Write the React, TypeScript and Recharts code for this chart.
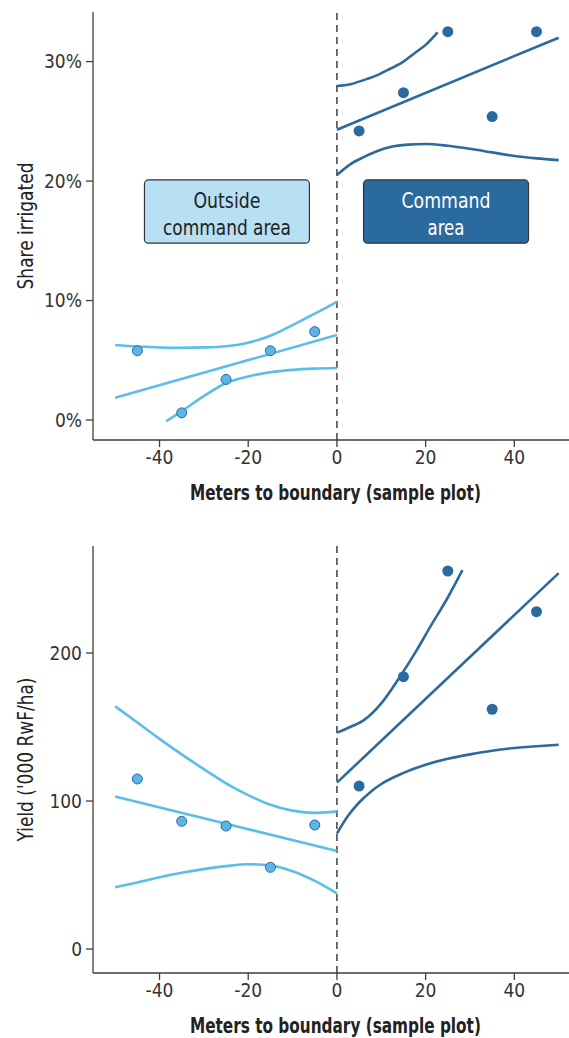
import {
  ComposedChart,
  Line,
  Scatter,
  XAxis,
  YAxis,
  ReferenceLine,
  ReferenceArea,
} from "recharts";

const LIGHT = "#5bbde9";
const DARK = "#2b6a9f";
const AXIS = "#3d3d3d";
const FONT = "'Liberation Sans Narrow', 'Arial Narrow', 'DejaVu Sans Condensed', sans-serif";

const X_TICKS = [-40, -20, 0, 20, 40];
const X_DOMAIN = [-55, 55];
const X_TITLE = "Meters to boundary (sample plot)";

// share irrigated (%)
const irrTicks = [0, 10, 20, 30];
const irrOutsidePts = [
  { x: -45, y: 5.8 },
  { x: -35, y: 0.6 },
  { x: -25, y: 3.4 },
  { x: -15, y: 5.8 },
  { x: -5, y: 7.4 },
];
const irrCommandPts = [
  { x: 5, y: 24.2 },
  { x: 15, y: 27.4 },
  { x: 25, y: 32.5 },
  { x: 35, y: 25.4 },
  { x: 45, y: 32.5 },
];
const irrOutsideFit = [
  { x: -50, y: 1.87 },
  { x: 0, y: 7.11 },
];
const irrOutsideUpper = [
  { x: -50, y: 6.28 },
  { x: -45, y: 6.15 },
  { x: -40, y: 6.07 },
  { x: -35, y: 6.05 },
  { x: -30, y: 6.08 },
  { x: -25, y: 6.18 },
  { x: -20, y: 6.47 },
  { x: -15, y: 7.05 },
  { x: -10, y: 7.95 },
  { x: -5, y: 8.9 },
  { x: 0, y: 9.9 },
];
const irrOutsideLower = [
  { x: -38.5, y: -0.1 },
  { x: -35, y: 0.75 },
  { x: -30, y: 2.0 },
  { x: -25, y: 3.1 },
  { x: -20, y: 3.65 },
  { x: -15, y: 4.0 },
  { x: -10, y: 4.2 },
  { x: -5, y: 4.3 },
  { x: 0, y: 4.35 },
];
const irrCommandFit = [
  { x: 0, y: 24.3 },
  { x: 50, y: 32.0 },
];
const irrCommandUpper = [
  { x: 0, y: 27.95 },
  { x: 3, y: 28.1 },
  { x: 6, y: 28.45 },
  { x: 9, y: 28.85 },
  { x: 12, y: 29.4 },
  { x: 15, y: 30.0 },
  { x: 17.5, y: 30.7 },
  { x: 20, y: 31.4 },
  { x: 22.7, y: 32.45 },
];
const irrCommandLower = [
  { x: 0, y: 20.5 },
  { x: 3, y: 21.4 },
  { x: 6, y: 22.0 },
  { x: 9, y: 22.5 },
  { x: 12, y: 22.85 },
  { x: 16, y: 23.05 },
  { x: 20, y: 23.1 },
  { x: 25, y: 22.95 },
  { x: 30, y: 22.7 },
  { x: 35, y: 22.4 },
  { x: 40, y: 22.1 },
  { x: 45, y: 21.9 },
  { x: 50, y: 21.75 },
];

// yield ('000 RwF/ha)
const yieldTicks = [0, 100, 200];
const yieldOutsidePts = [
  { x: -45, y: 114.9 },
  { x: -35, y: 86.3 },
  { x: -25, y: 83.1 },
  { x: -15, y: 55.2 },
  { x: -5, y: 83.8 },
];
const yieldCommandPts = [
  { x: 5, y: 110.1 },
  { x: 15, y: 184 },
  { x: 25, y: 255.4 },
  { x: 35, y: 162 },
  { x: 45, y: 227.9 },
];
const yieldOutsideFit = [
  { x: -50, y: 103 },
  { x: 0, y: 66.2 },
];
const yieldOutsideUpper = [
  { x: -50, y: 164 },
  { x: -45, y: 153 },
  { x: -40, y: 142 },
  { x: -35, y: 131.5 },
  { x: -30, y: 121.5 },
  { x: -25, y: 112 },
  { x: -20, y: 104 },
  { x: -15, y: 97.5 },
  { x: -10, y: 93.5 },
  { x: -5, y: 92 },
  { x: 0, y: 93 },
];
const yieldOutsideLower = [
  { x: -50, y: 41.7 },
  { x: -45, y: 45 },
  { x: -40, y: 48.5 },
  { x: -35, y: 51.5 },
  { x: -30, y: 54 },
  { x: -25, y: 56 },
  { x: -20, y: 57.3 },
  { x: -15, y: 56.5 },
  { x: -10, y: 52.5 },
  { x: -5, y: 46 },
  { x: 0, y: 37.6 },
];
const yieldCommandFit = [
  { x: 0, y: 112.4 },
  { x: 50, y: 254 },
];
const yieldCommandUpper = [
  { x: 0, y: 146.2 },
  { x: 3, y: 150 },
  { x: 6, y: 154.5 },
  { x: 10, y: 166 },
  { x: 14, y: 183 },
  { x: 18, y: 202 },
  { x: 21, y: 217.5 },
  { x: 25, y: 237.5 },
  { x: 28.3, y: 256 },
];
const yieldCommandLower = [
  { x: 0, y: 78 },
  { x: 2.5, y: 90 },
  { x: 5, y: 99 },
  { x: 7.5, y: 106 },
  { x: 10, y: 111.5 },
  { x: 15, y: 119 },
  { x: 20, y: 124.5 },
  { x: 25, y: 128.5 },
  { x: 30, y: 131.5 },
  { x: 35, y: 134 },
  { x: 40, y: 135.8 },
  { x: 45, y: 137 },
  { x: 50, y: 138 },
];

const tickStyle = { fontFamily: FONT, fontSize: 19, fill: "#333" };

const lightDot = (p: any) => (
  <circle cx={p.cx} cy={p.cy} r={5} fill="#5bb5e6" stroke={DARK} strokeWidth={1} />
);
const darkDot = (p: any) => <circle cx={p.cx} cy={p.cy} r={5.5} fill={DARK} />;

// box annotation: lines = [text, width]
const boxShape = (lines: [string, number][], fill: string, color: string) => (p: any) => (
  <g>
    <rect x={p.x} y={p.y} width={p.width} height={p.height} rx={4} fill={fill} stroke="#333" strokeWidth={1.2} />
    {lines.map(([t, w], i) => (
      <text
        key={t}
        x={p.x + p.width / 2}
        y={p.y + 28 + i * 27}
        textAnchor="middle"
        fontFamily={FONT}
        fontSize={21}
        fill={color}
        textLength={w}
        lengthAdjust="spacingAndGlyphs"
      >
        {t}
      </text>
    ))}
  </g>
);

const xTitle = (fromBottom: number) => (p: any) => {
  const vb = p.viewBox;
  return (
    <text
      x={vb.x + vb.width / 2 - 1.5}
      y={vb.y + vb.height - fromBottom}
      textAnchor="middle"
      fontFamily={FONT}
      fontSize={21}
      fontWeight={700}
      fill="#222"
      textLength={291}
      lengthAdjust="spacingAndGlyphs"
    >
      {X_TITLE}
    </text>
  );
};

const yTitle = (text: string, len: number) => (p: any) => {
  const vb = p.viewBox;
  const cx = 25;
  const cy = vb.y + vb.height / 2;
  return (
    <text
      x={cx}
      y={cy}
      dy="0.36em"
      transform={`rotate(-90, ${cx}, ${cy})`}
      textAnchor="middle"
      fontFamily={FONT}
      fontSize={21}
      fill="#222"
      textLength={len}
      lengthAdjust="spacingAndGlyphs"
    >
      {text}
    </text>
  );
};

function Panel(props: any) {
  const { height, top, bottom, labelOffset, yDomain, yTicks, yFmt, yLabel, yLabelLen, series, boxes } = props;
  return (
    <ComposedChart
      width={600}
      height={height}
      margin={{ top, right: 19.15, bottom: 0, left: 0 }}
    >
      <XAxis
        dataKey="x"
        type="number"
        domain={X_DOMAIN}
        ticks={X_TICKS}
        allowDataOverflow
        tick={tickStyle}
        tickSize={7}
        tickMargin={4}
        height={bottom}
        stroke={AXIS}
        strokeWidth={1.3}
        label={{ content: xTitle(labelOffset) }}
      />
      <XAxis
        xAxisId="top"
        orientation="top"
        dataKey="x"
        type="number"
        domain={X_DOMAIN}
        tick={false}
        tickLine={false}
        height={0}
        stroke={AXIS}
        strokeWidth={1.3}
      />
      <YAxis
        dataKey="y"
        type="number"
        domain={yDomain}
        ticks={yTicks}
        allowDataOverflow
        tickFormatter={yFmt}
        tick={tickStyle}
        tickSize={7}
        tickMargin={4}
        width={93}
        stroke={AXIS}
        strokeWidth={1.3}
        label={{ content: yTitle(yLabel, yLabelLen) }}
      />
      {boxes}
      <ReferenceLine x={0} stroke="#333" strokeWidth={1.4} strokeDasharray="7 5" />
      {series.lines.map((s: any, i: number) => (
        <Line
          key={"l" + i}
          data={s.data}
          dataKey="y"
          type={s.data.length > 2 ? "monotone" : "linear"}
          stroke={s.color}
          strokeWidth={2.6}
          dot={false}
          activeDot={false}
          isAnimationActive={false}
        />
      ))}
      <Scatter data={series.light} dataKey="y" shape={lightDot} isAnimationActive={false} />
      <Scatter data={series.dark} dataKey="y" shape={darkDot} isAnimationActive={false} />
    </ComposedChart>
  );
}

export default function App() {
  return (
    <div
      style={{
        position: "absolute",
        left: 0,
        top: 0,
        width: 569,
        height: 1038,
        overflow: "hidden",
        background: "#fff",
      }}
    >
      <Panel
        height={520}
        top={12}
        bottom={80}
        labelOffset={20}
        yDomain={[-1.67, 34.15]}
        yTicks={irrTicks}
        yFmt={(v: number) => `${v}%`}
        yLabel="Share irrigated"
        yLabelLen={127}
        series={{
          lines: [
            { data: irrOutsideUpper, color: LIGHT },
            { data: irrOutsideFit, color: LIGHT },
            { data: irrOutsideLower, color: LIGHT },
            { data: irrCommandUpper, color: DARK },
            { data: irrCommandFit, color: DARK },
            { data: irrCommandLower, color: DARK },
          ],
          light: irrOutsidePts,
          dark: irrCommandPts,
        }}
        boxes={[
          <ReferenceArea
            key="out"
            x1={-43.4}
            x2={-6.2}
            y1={14.8}
            y2={20.1}
            shape={boxShape([["Outside", 67], ["command area", 128]], "#b8e0f4", "#222")}
          />,
          <ReferenceArea
            key="cmd"
            x1={6.0}
            x2={43.2}
            y1={14.8}
            y2={20.1}
            shape={boxShape([["Command", 89], ["area", 37]], DARK, "#fff")}
          />,
        ]}
      />
      <Panel
        height={518}
        top={26}
        bottom={65}
        labelOffset={5}
        yDomain={[-16.2, 272.3]}
        yTicks={yieldTicks}
        yFmt={(v: number) => `${v}`}
        yLabel="Yield ('000 RwF/ha)"
        yLabelLen={164}
        series={{
          lines: [
            { data: yieldOutsideUpper, color: LIGHT },
            { data: yieldOutsideFit, color: LIGHT },
            { data: yieldOutsideLower, color: LIGHT },
            { data: yieldCommandUpper, color: DARK },
            { data: yieldCommandFit, color: DARK },
            { data: yieldCommandLower, color: DARK },
          ],
          light: yieldOutsidePts,
          dark: yieldCommandPts,
        }}
        boxes={null}
      />
    </div>
  );
}
